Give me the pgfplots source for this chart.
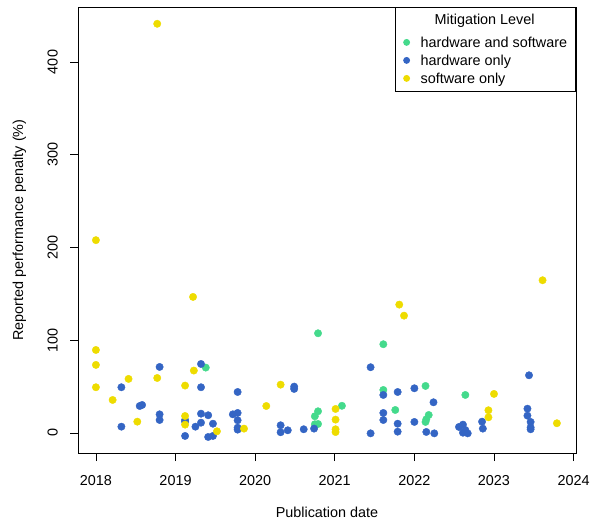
\documentclass[border=0pt]{standalone}
\usepackage{pgfplots}
\pgfplotsset{compat=1.18}
\usepackage{fontspec}
\setmainfont{Liberation Sans}

\definecolor{hwsw}{HTML}{44DA8C}
\definecolor{hwonly}{HTML}{3465C4}
\definecolor{swonly}{HTML}{EEDC00}

\pgfplotstableread{
x y
2019.38 70.5
2020.79 107.5
2020.79 23.4
2020.75 18.0
2020.75 9.4
2020.79 9.7
2021.09 29.3
2021.61 95.7
2021.61 46.4
2021.76 24.8
2022.14 50.7
2022.18 19.4
2022.15 14.8
2022.14 11.9
2022.64 41.0
}\hwsw

\pgfplotstableread{
x y
2018.80 71.2
2018.32 49.3
2018.32 6.8
2018.55 29.1
2018.58 30.2
2018.80 20.1
2018.80 14.0
2019.12 14.0
2019.12 12.2
2019.12 -3.2
2019.32 74.4
2019.32 49.3
2019.32 20.8
2019.32 11.1
2019.25 6.8
2019.41 19.1
2019.47 10.0
2019.41 -4.3
2019.47 -3.2
2019.78 44.2
2019.72 20.1
2019.78 21.6
2019.78 13.7
2019.78 5.7
2019.78 3.6
2020.32 8.3
2020.32 0.8
2020.41 2.9
2020.49 50.0
2020.49 47.5
2020.61 4.0
2020.74 4.7
2021.45 70.9
2021.45 -0.4
2021.61 41.0
2021.61 21.6
2021.61 14.0
2021.79 44.2
2021.79 10.0
2021.79 1.4
2022.00 48.2
2022.00 11.9
2022.15 1.1
2022.24 33.1
2022.25 -0.4
2022.56 6.5
2022.61 9.0
2022.61 0.3
2022.64 3.2
2022.67 -0.4
2022.85 12.2
2022.86 4.7
2023.44 62.2
2023.42 26.2
2023.42 18.7
2023.46 11.9
2023.46 6.1
2023.46 4.0
}\hwonly

\pgfplotstableread{
x y
2018.00 207.9
2018.00 89.5
2018.00 73.4
2018.00 49.3
2018.21 35.6
2018.41 58.3
2018.52 12.2
2018.77 441.2
2018.77 59.3
2019.12 51.1
2019.12 18.3
2019.12 9.0
2019.22 146.7
2019.23 67.3
2019.52 1.8
2019.86 4.7
2020.14 29.1
2020.32 52.1
2021.01 25.9
2021.01 14.4
2021.01 4.0
2021.01 1.0
2021.81 138.4
2021.87 126.5
2022.93 24.5
2022.93 16.9
2023.00 42.1
2023.61 164.7
2023.79 10.5
}\swonly

\newcommand{\ent}[1]{\rule[-4pt]{0pt}{18pt}#1}

\begin{document}
\begin{tikzpicture}
\begin{axis}[
    name=ax,
    scale only axis,
    width=498pt, height=446pt,
    xmin=2017.775, xmax=2024.03,
    ymin=-21.6, ymax=459.3,
    xtick={2018,2019,...,2024},
    ytick={0,100,...,400},
    tick pos=left,
    tick align=outside,
    major tick length=8pt,
    every tick/.style={black, line width=0.8pt},
    axis line style={line width=0.8pt},
    font=\fontsize{14.4}{17}\selectfont,
    /pgf/number format/assume math mode=true,
    /pgf/number format/1000 sep={},
    xticklabel style={anchor=base, yshift=-24pt},
    yticklabel style={rotate=90, anchor=base, yshift=12.5pt},
    xlabel={Publication date},
    ylabel={Reported performance penalty (\%)},
    xlabel style={at={(axis description cs:0.5,0)}, anchor=base, yshift=-64.5pt},
    ylabel style={at={(axis description cs:-0.1104,0.5)}, anchor=base, rotate=0},
    legend cell align=left,
    legend style={at={(1,1)}, anchor=north east, draw=black, line width=0.8pt,
        inner xsep=8.5pt, inner ysep=4pt, column sep=11pt, row sep=0pt,
        nodes={inner sep=0pt, text depth=}},
    legend image code/.code={\draw[#1, mark size=3pt] plot coordinates {(0pt,0pt)};},
]
\addlegendimage{empty legend}
\addlegendentry{\hspace*{14pt}Mitigation Level\rule[-9pt]{0pt}{22pt}}
\addplot[only marks, mark=*, mark size=3.7pt, mark options={draw=hwsw, fill=hwsw}] table {\hwsw};
\addlegendentry{\ent{hardware and software}}
\addplot[only marks, mark=*, mark size=3.7pt, mark options={draw=hwonly, fill=hwonly}] table {\hwonly};
\addlegendentry{\ent{hardware only}}
\addplot[only marks, mark=*, mark size=3.7pt, mark options={draw=swonly, fill=swonly}] table {\swonly};
\addlegendentry{\ent{software only}}
\end{axis}
\pgfresetboundingbox
\path ([shift={(-78pt,-66.7pt)}]ax.south west) rectangle ([shift={(14pt,7pt)}]ax.north east);
\end{tikzpicture}
\end{document}
